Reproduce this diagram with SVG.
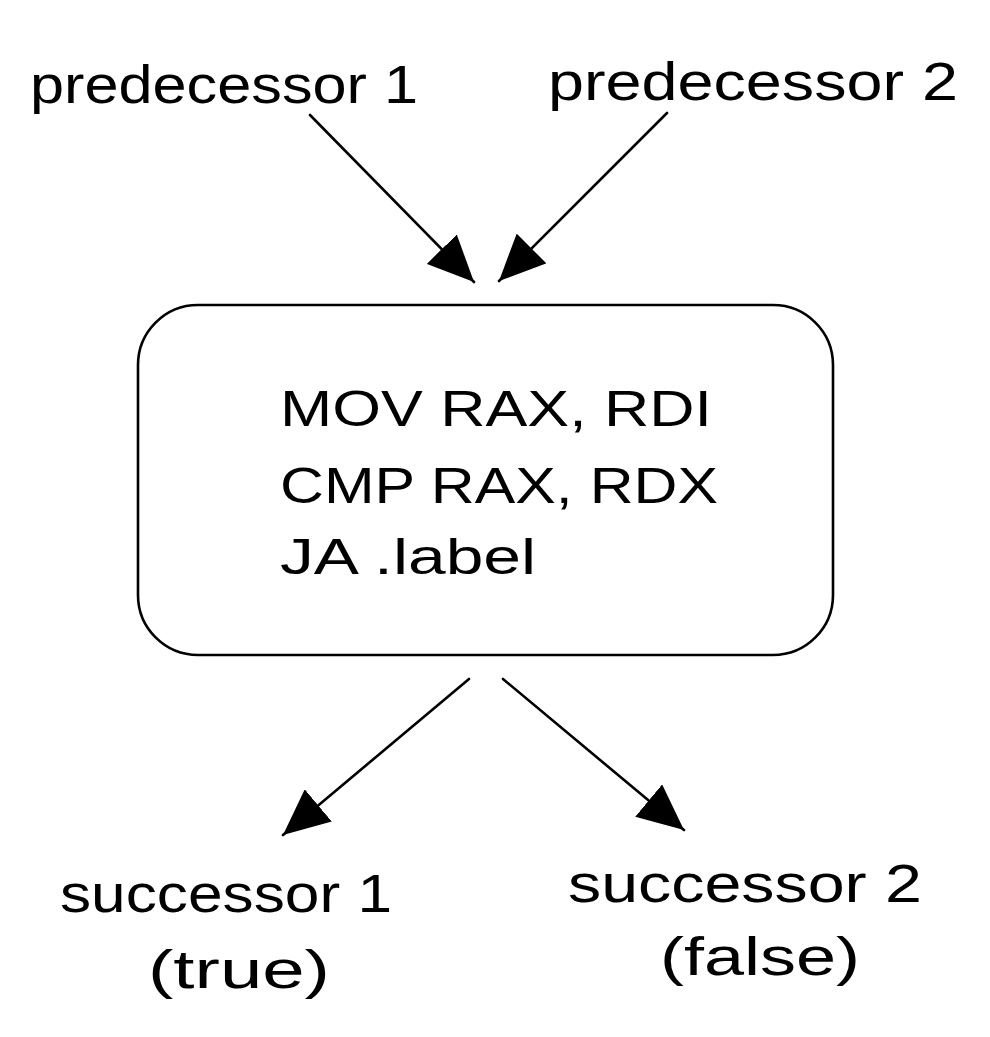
<svg xmlns="http://www.w3.org/2000/svg" width="990" height="1037" viewBox="0 0 990 1037">
  <style>
    .lbl { font-family: "Liberation Sans", "DejaVu Sans", sans-serif; font-size: 53px; fill: #000; }
    .code { font-family: "Liberation Sans", "DejaVu Sans", sans-serif; font-size: 50px; fill: #000; }
    .edge { stroke: #000; stroke-width: 2.6; fill: none; stroke-linecap: round; marker-end: url(#arrow); }
    .box { fill: #fff; stroke: #000; stroke-width: 2.6; }
  </style>
  <defs>
    <marker id="arrow" markerUnits="userSpaceOnUse" viewBox="0 0 46 42" refX="46" refY="21" markerWidth="46" markerHeight="42" orient="auto">
      <path d="M0,0 L46,21 L0,42 Z" fill="#000"/>
    </marker>
  </defs>
  <rect width="990" height="1037" fill="#fff"/>

  <g id="connectors">
    <line class="edge" x1="310" y1="115" x2="474" y2="282"/>
    <line class="edge" x1="667" y1="113" x2="499" y2="281"/>
    <line class="edge" x1="469" y1="679" x2="283" y2="835"/>
    <line class="edge" x1="503" y1="679" x2="684" y2="830"/>
  </g>

  <g id="pred1">
    <text class="lbl" x="30" y="103" textLength="388" lengthAdjust="spacingAndGlyphs">predecessor 1</text>
  </g>
  <g id="pred2">
    <text class="lbl" x="548" y="100" textLength="410" lengthAdjust="spacingAndGlyphs">predecessor 2</text>
  </g>

  <g id="block">
    <rect class="box" x="138" y="305" width="695" height="350" rx="60" ry="60"/>
    <text class="code" x="280" y="426" textLength="432" lengthAdjust="spacingAndGlyphs">MOV RAX, RDI</text>
    <text class="code" x="280" y="503" textLength="438" lengthAdjust="spacingAndGlyphs">CMP RAX, RDX</text>
    <text class="code" x="280" y="574" textLength="256" lengthAdjust="spacingAndGlyphs">JA .label</text>
  </g>

  <g id="succ1">
    <text class="lbl" x="60" y="912" textLength="332" lengthAdjust="spacingAndGlyphs">successor 1</text>
    <text class="lbl" x="148" y="988" textLength="182" lengthAdjust="spacingAndGlyphs">(true)</text>
  </g>
  <g id="succ2">
    <text class="lbl" x="568" y="902" textLength="354" lengthAdjust="spacingAndGlyphs">successor 2</text>
    <text class="lbl" x="660" y="975" textLength="200" lengthAdjust="spacingAndGlyphs">(false)</text>
  </g>
</svg>
